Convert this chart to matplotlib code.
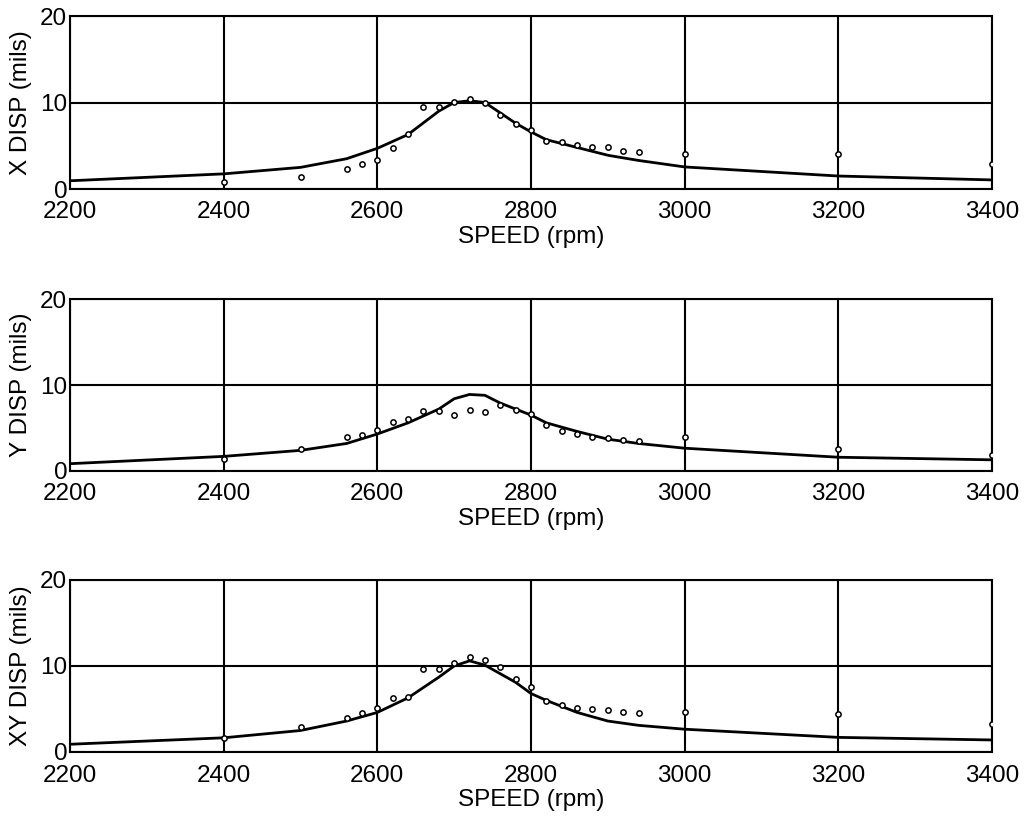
import matplotlib
matplotlib.use("Agg")
import matplotlib.pyplot as plt

plt.rcParams['font.family'] = ['Liberation Sans', 'DejaVu Sans']

# Measured speeds (rpm) for the circles
meas_speed = [2400, 2500, 2560, 2580, 2600, 2620, 2640, 2660, 2680, 2700, 2720,
              2740, 2760, 2780, 2800, 2820, 2840, 2860, 2880, 2900, 2920, 2940,
              3000, 3200, 3400]
x_meas = [0.85, 1.4, 2.35, 2.9, 3.4, 4.7, 6.4, 9.5, 9.5, 10.1, 10.4,
          9.9, 8.6, 7.5, 6.8, 5.55, 5.4, 5.05, 4.8, 4.8, 4.45, 4.3,
          4.0, 4.1, 2.85]
y_meas = [1.45, 2.6, 3.9, 4.2, 4.8, 5.65, 6.1, 6.95, 7.0, 6.55, 7.1,
          6.9, 7.7, 7.1, 6.6, 5.3, 4.7, 4.3, 3.9, 3.85, 3.65, 3.5,
          3.9, 2.5, 1.9]
xy_meas = [1.6, 2.85, 3.9, 4.5, 5.1, 6.3, 6.45, 9.6, 9.6, 10.3, 11.0,
           10.7, 9.9, 8.5, 7.6, 5.9, 5.45, 5.15, 4.95, 4.85, 4.7, 4.5,
           4.6, 4.4, 3.3]

# Predicted response curves
curve_speed = [2200, 2400, 2500, 2560, 2600, 2640, 2680, 2700, 2720, 2740,
               2760, 2780, 2800, 2820, 2860, 2900, 2940, 3000, 3200, 3400]
x_curve = [0.95, 1.75, 2.5, 3.5, 4.7, 6.3, 9.0, 10.0, 10.2, 10.0,
           8.8, 7.6, 6.6, 5.7, 4.8, 3.9, 3.3, 2.55, 1.5, 1.05]
y_curve = [0.85, 1.7, 2.4, 3.2, 4.3, 5.6, 7.2, 8.4, 8.9, 8.8,
           7.9, 7.2, 6.5, 5.6, 4.6, 3.7, 3.2, 2.65, 1.6, 1.3]
xy_curve = [0.9, 1.65, 2.5, 3.6, 4.6, 6.3, 8.7, 10.0, 10.6, 10.1,
            9.1, 8.1, 6.8, 6.0, 4.6, 3.6, 3.1, 2.65, 1.7, 1.4]

ylabels = ["X DISP (mils)", "Y DISP (mils)", "XY DISP (mils)"]
xticks = [2200, 2400, 2600, 2800, 3000, 3200, 3400]
yticks = [0, 10, 20]

W, H = 1027, 827
fig = plt.figure(figsize=(W / 100, H / 100), dpi=100)

panels = [(16, 189), (299, 471), (580, 752)]
meas = [x_meas, y_meas, xy_meas]
curves = [x_curve, y_curve, xy_curve]
left, right = 70, 992

for (top, bot), m, c, lab in zip(panels, meas, curves, ylabels):
    ax = fig.add_axes([left / W, 1 - bot / H, (right - left) / W, (bot - top) / H])
    ax.set_xlim(2200, 3400)
    ax.set_ylim(0, 20)
    ax.set_xticks(xticks)
    ax.set_yticks(yticks)
    ax.grid(True, color='black', linewidth=1.5)
    ax.set_axisbelow(True)
    for s in ax.spines.values():
        s.set_linewidth(1.5)
        s.set_color('black')
    ax.tick_params(axis='both', length=0, labelsize=17.5)
    ax.tick_params(axis='x', pad=9)
    ax.tick_params(axis='y', pad=2)
    ax.plot(curve_speed, c, color='black', linewidth=2.0, zorder=3)
    ax.plot(meas_speed, m, linestyle='none', marker='o', markersize=3.8,
            markerfacecolor='white', markeredgecolor='black',
            markeredgewidth=1.1, zorder=4)
    ax.set_xlabel("SPEED (rpm)", fontsize=17.5, labelpad=2)
    ax.set_ylabel(lab, fontsize=17.5)
    ax.yaxis.set_label_coords(-(left - 21) / (right - left), 0.5)
    ax.yaxis.label.set_verticalalignment('center')

fig.savefig("out.png", dpi=100)
